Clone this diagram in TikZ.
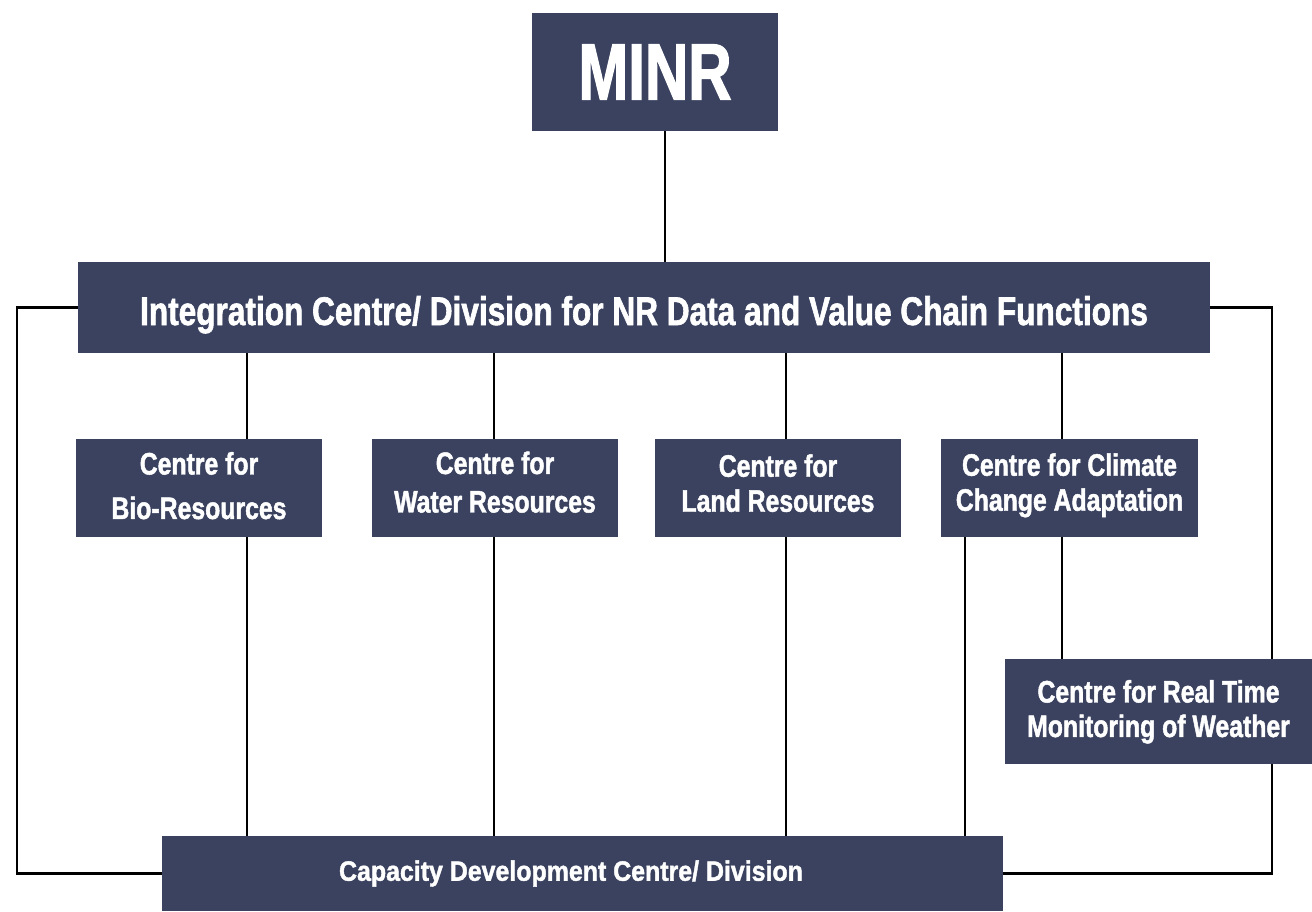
\documentclass[tikz,border=0pt]{standalone}
\usepackage{fontspec}
\newfontfamily\fminr[FakeStretch=0.75,FakeBold=1.5]{Liberation Sans}
\newfontfamily\fint[FakeStretch=0.79,FakeBold=1.5]{Liberation Sans}
\newfontfamily\fcen[FakeStretch=0.80,FakeBold=1.5]{Liberation Sans}
\newfontfamily\fcap[FakeStretch=0.89,FakeBold=1.5]{Liberation Sans}
\usetikzlibrary{backgrounds}
\definecolor{navy}{RGB}{58,66,96}
\tikzset{
  box/.style={fill=navy, text=white, inner sep=0pt, align=center},
  centrebox/.style={box, minimum width=246pt, minimum height=98pt},
  link/.style={draw=black, line width=2.2pt}
}
\begin{document}
\begin{tikzpicture}[x=1pt,y=-1pt]
\useasboundingbox (0,0) rectangle (1312,911);
\node[box, minimum width=246pt, minimum height=118pt, font=\fminr\bfseries\fontsize{80}{80}\selectfont] (minr) at (655,72) {MINR};
\node[box, minimum width=1132pt, minimum height=91pt, text height=35pt, text depth=0pt, font=\fint\bfseries\fontsize{40}{40}\selectfont] (integ) at (644,307.5) {Integration Centre/ Division for NR Data and Value Chain Functions};
\node[centrebox, text depth=5pt, font=\fcen\bfseries\fontsize{31}{44.5}\selectfont] (bio) at (199,488) {Centre for\\Bio-Resources};
\node[centrebox, text depth=12pt, font=\fcen\bfseries\fontsize{31}{38.5}\selectfont] (water) at (495,488) {Centre for\\Water Resources};
\node[centrebox, text depth=10pt, font=\fcen\bfseries\fontsize{31}{35}\selectfont] (land) at (778,488) {Centre for\\Land Resources};
\node[centrebox, minimum width=257pt, text depth=12pt, font=\fcen\bfseries\fontsize{31}{35}\selectfont] (clim) at (1069.5,488) {Centre for Climate\\Change Adaptation};
\node[box, minimum width=307pt, minimum height=105pt, text depth=6pt, font=\fcen\bfseries\fontsize{31}{34.5}\selectfont] (rt) at (1158.5,711.5) {Centre for Real Time\\Monitoring of Weather};
\node[box, minimum width=841pt, minimum height=75pt, font=\fcap\bfseries\fontsize{28}{30}\selectfont] (cap) at (582.5,873.5) {Capacity Development Centre/ Division\hspace*{23pt}};
\coordinate (xm) at (665,0);
\coordinate (x1) at (247,0);
\coordinate (x2) at (494,0);
\coordinate (x3) at (786,0);
\coordinate (x4) at (1062,0);
\coordinate (x5) at (965,0);
\coordinate (xl) at (17,0);
\coordinate (xr) at (1272,0);
\begin{scope}[on background layer]
\draw[link] (minr.south -| xm) -- (integ.north -| xm);
\draw[link] (integ.south -| x1) -- (bio.north -| x1);
\draw[link] (bio.south -| x1) -- (cap.north -| x1);
\draw[link] (integ.south -| x2) -- (water.north -| x2);
\draw[link] (water.south -| x2) -- (cap.north -| x2);
\draw[link] (integ.south -| x3) -- (land.north -| x3);
\draw[link] (land.south -| x3) -- (cap.north -| x3);
\draw[link] (integ.south -| x4) -- (clim.north -| x4);
\draw[link] (clim.south -| x4) -- (rt.north -| x4);
\draw[link] (clim.south -| x5) -- (cap.north -| x5);
\draw[link] (integ.west) -- (integ.west -| xl) -- (cap.west -| xl) -- (cap.west);
\draw[link] (integ.east) -- (integ.east -| xr) -- (cap.east -| xr) -- (cap.east);
\end{scope}
\end{tikzpicture}
\end{document}
